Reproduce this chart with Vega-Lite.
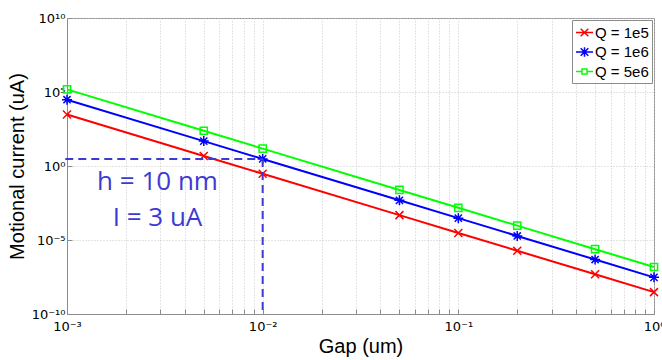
{
  "$schema": "https://vega.github.io/schema/vega-lite/v6.json",
  "autosize": {"type": "none"},
  "padding": {"left": 67, "top": 18, "right": 8, "bottom": 46},
  "width": 587,
  "height": 296,
  "background": "white",
  "config": {
    "font": "Liberation Sans",
    "view": {"stroke": "#8c8c8c", "strokeWidth": 1},
    "axis": {
      "domainColor": "#8c8c8c",
      "tickColor": "#8c8c8c",
      "tickSize": -5,
      "labelColor": "black",
      "labelFontSize": 13,
      "labelFont": "DejaVu Sans",
      "labelOverlap": false,
      "labelFlush": false,
      "labelBound": false,
      "titleFont": "Liberation Sans",
      "titleFontSize": 20,
      "titleFontWeight": "normal",
      "titleColor": "black",
      "grid": true,
      "gridColor": "#c8c8c8",
      "gridDash": [1, 2],
      "gridWidth": 1
    }
  },
  "resolve": {"scale": {"color": "independent", "shape": "independent"}, "legend": {"color": "independent"}},
  "data": {
    "values": [
      {"series": "Q = 1e5", "x": 0.001, "y": 3000},
      {"series": "Q = 1e5", "x": 0.005, "y": 4.8},
      {"series": "Q = 1e5", "x": 0.01, "y": 0.3},
      {"series": "Q = 1e5", "x": 0.05, "y": 0.00048},
      {"series": "Q = 1e5", "x": 0.1, "y": 0.00003},
      {"series": "Q = 1e5", "x": 0.2, "y": 0.000001875},
      {"series": "Q = 1e5", "x": 0.5, "y": 4.8e-8},
      {"series": "Q = 1e5", "x": 1, "y": 3e-9},
      {"series": "Q = 1e6", "x": 0.001, "y": 30000},
      {"series": "Q = 1e6", "x": 0.005, "y": 48},
      {"series": "Q = 1e6", "x": 0.01, "y": 3},
      {"series": "Q = 1e6", "x": 0.05, "y": 0.0048},
      {"series": "Q = 1e6", "x": 0.1, "y": 0.0003},
      {"series": "Q = 1e6", "x": 0.2, "y": 0.00001875},
      {"series": "Q = 1e6", "x": 0.5, "y": 4.8e-7},
      {"series": "Q = 1e6", "x": 1, "y": 3e-8},
      {"series": "Q = 5e6", "x": 0.001, "y": 150000},
      {"series": "Q = 5e6", "x": 0.005, "y": 240},
      {"series": "Q = 5e6", "x": 0.01, "y": 15},
      {"series": "Q = 5e6", "x": 0.05, "y": 0.024},
      {"series": "Q = 5e6", "x": 0.1, "y": 0.0015},
      {"series": "Q = 5e6", "x": 0.2, "y": 0.00009375},
      {"series": "Q = 5e6", "x": 0.5, "y": 0.0000024},
      {"series": "Q = 5e6", "x": 1, "y": 1.5e-7}
    ]
  },
  "encoding": {
    "x": {
      "field": "x",
      "type": "quantitative",
      "scale": {"type": "log", "domain": [0.001, 1], "nice": false},
      "axis": {
        "title": "Gap (um)",
        "values": [0.001, 0.002, 0.003, 0.004, 0.005, 0.006, 0.007, 0.008, 0.009, 0.01, 0.02, 0.03, 0.04, 0.05, 0.06, 0.07, 0.08, 0.09, 0.1, 0.2, 0.3, 0.4, 0.5, 0.6, 0.7, 0.8, 0.9, 1],
        "labelExpr": "datum.value == 0.001 ? '10⁻³' : datum.value == 0.01 ? '10⁻²' : datum.value == 0.1 ? '10⁻¹' : datum.value == 1 ? '10⁰' : ''",
        "labelPadding": 11,
        "titlePadding": 3
      }
    },
    "y": {
      "field": "y",
      "type": "quantitative",
      "scale": {"type": "log", "domain": [1e-10, 1e10], "nice": false},
      "axis": {
        "title": "Motional current (uA)",
        "values": [1e-10, 1e-5, 1, 100000, 10000000000],
        "labelExpr": "datum.value < 1e-9 ? '10⁻¹⁰' : datum.value < 1e-4 ? '10⁻⁵' : datum.value < 10 ? '10⁰' : datum.value < 1e6 ? '10⁵' : '10¹⁰'",
        "labelPadding": 7,
        "titlePadding": 4
      }
    }
  },
  "layer": [
    {
      "mark": {"type": "line", "strokeWidth": 2},
      "encoding": {
        "color": {
          "field": "series",
          "type": "nominal",
          "scale": {"domain": ["Q = 1e5", "Q = 1e6", "Q = 5e6"], "range": ["#ff0000", "#0000ff", "#00ff00"]},
          "legend": {
            "title": null,
            "orient": "top-right",
            "offset": 2,
            "fillColor": "white",
            "strokeColor": "#8c8c8c",
            "padding": 3,
            "labelFontSize": 15,
            "labelFont": "Liberation Sans",
            "labelColor": "black",
            "labelOffset": 1,
            "symbolSize": 289,
            "symbolStrokeWidth": 1.5,
            "rowPadding": 1.5,
            "encode": {
              "symbols": {
                "update": {
                  "shape": {"signal": "datum.value == 'Q = 1e5' ? 'M-1,0L1,0M-0.45,-0.45L0.45,0.45M-0.45,0.45L0.45,-0.45' : datum.value == 'Q = 1e6' ? 'M-1,0L1,0M-0.45,-0.45L0.45,0.45M-0.45,0.45L0.45,-0.45M0,-0.55L0,0.55' : 'M-1,0L-0.3,0M0.3,0L1,0M-0.3,-0.3L0.3,-0.3L0.3,0.3L-0.3,0.3Z'"},
                  "fill": {"value": "transparent"}
                }
              }
            }
          }
        }
      }
    },
    {
      "mark": {"type": "point", "filled": false, "strokeWidth": 1.5, "size": 64, "opacity": 1},
      "encoding": {
        "color": {
          "field": "series",
          "type": "nominal",
          "scale": {"domain": ["Q = 1e5", "Q = 1e6", "Q = 5e6"], "range": ["#ff0000", "#0000ff", "#00ff00"]},
          "legend": null
        },
        "shape": {
          "field": "series",
          "type": "nominal",
          "scale": {
            "domain": ["Q = 1e5", "Q = 1e6", "Q = 5e6"],
            "range": [
              "M-1,-1L1,1M-1,1L1,-1",
              "M-0.9,-0.9L0.9,0.9M-0.9,0.9L0.9,-0.9M0,-1.25L0,1.25M-1.25,0L1.25,0",
              "M-0.9,-0.9L0.9,-0.9L0.9,0.9L-0.9,0.9Z"
            ]
          },
          "legend": null
        }
      }
    },
    {
      "data": {
        "values": [
          {"x": 0.00098, "x2": 0.01, "y": 3, "y2": 3},
          {"x": 0.01, "x2": 0.01, "y": 3, "y2": 1e-10}
        ]
      },
      "mark": {"type": "rule", "color": "#3b3bd4", "strokeWidth": 2, "strokeDash": [8, 5], "clip": false},
      "encoding": {
        "x2": {"field": "x2"},
        "y2": {"field": "y2"}
      }
    },
    {
      "data": {
        "values": [
          {"x": 0.0029, "y": 0.083, "label": "h = 10 nm"},
          {"x": 0.0029, "y": 0.00031, "label": "I = 3 uA"}
        ]
      },
      "mark": {"type": "text", "font": "Open Sans", "fontSize": 26, "color": "#3b3bd4", "align": "center", "baseline": "middle"},
      "encoding": {
        "text": {"field": "label"}
      }
    }
  ]
}
